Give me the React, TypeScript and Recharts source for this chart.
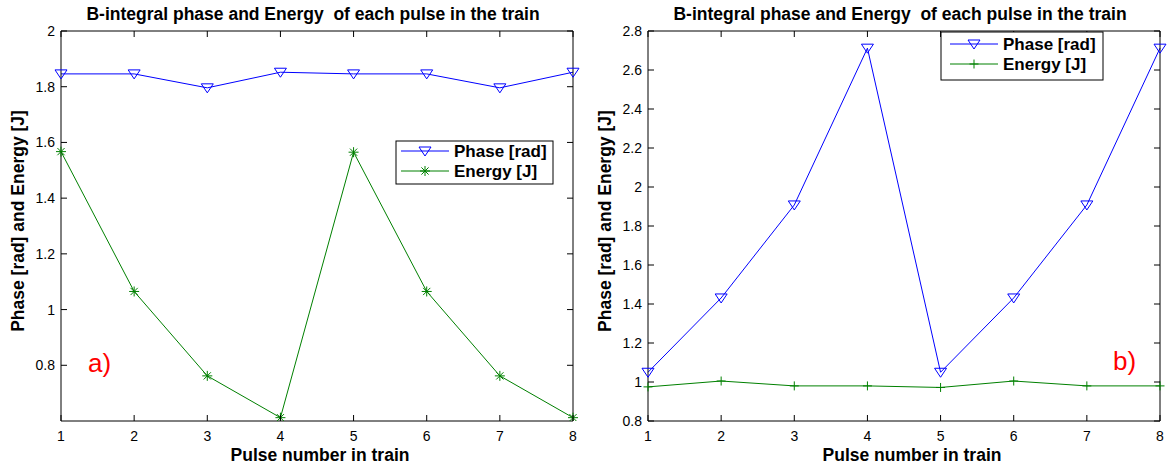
import { Line, LineChart, XAxis, YAxis } from 'recharts';

const pulses = [1, 2, 3, 4, 5, 6, 7, 8];
const phaseA = [1.846, 1.846, 1.796, 1.852, 1.846, 1.846, 1.796, 1.852];
const energyA = [1.567, 1.065, 0.762, 0.612, 1.565, 1.065, 0.762, 0.612];
const phaseB = [1.05, 1.431, 1.908, 2.712, 1.05, 1.431, 1.908, 2.712];
const energyB = [0.975, 1.005, 0.98, 0.98, 0.972, 1.005, 0.98, 0.98];
const yTicksA = [0.8, 1, 1.2, 1.4, 1.6, 1.8, 2];
const yTicksB = [0.8, 1, 1.2, 1.4, 1.6, 1.8, 2, 2.2, 2.4, 2.6, 2.8];
const titleText = 'B-integral phase and Energy  of each pulse in the train';
const xLabel = 'Pulse number in train';
const yLabel = 'Phase [rad] and Energy [J]';
const seriesNames = ['Phase [rad]', 'Energy [J]'];
const tags = ['a)', 'b)'];

const FONT = '"Liberation Sans", Arial, sans-serif';
const BLUE = '#0000ff';
const GREEN = '#008000';
const TICK = 6;

const fmt = (v: number) => String(+v.toFixed(1));

const dataA = pulses.map((p, i) => ({ pulse: p, phase: phaseA[i], energy: energyA[i] }));
const dataB = pulses.map((p, i) => ({ pulse: p, phase: phaseB[i], energy: energyB[i] }));

type Pt = { cx?: number; cy?: number };

function TriDown({ cx, cy }: Pt) {
  if (cx == null || cy == null) return null;
  return (
    <polygon
      points={`${cx - 6},${cy - 4} ${cx + 6},${cy - 4} ${cx},${cy + 5}`}
      fill="none"
      stroke={BLUE}
      strokeWidth={1}
    />
  );
}

function Star({ cx, cy }: Pt) {
  if (cx == null || cy == null) return null;
  const r = 5;
  const d = 3.6;
  return (
    <g stroke={GREEN} strokeWidth={1}>
      <line x1={cx - r} y1={cy} x2={cx + r} y2={cy} />
      <line x1={cx} y1={cy - r} x2={cx} y2={cy + r} />
      <line x1={cx - d} y1={cy - d} x2={cx + d} y2={cy + d} />
      <line x1={cx - d} y1={cy + d} x2={cx + d} y2={cy - d} />
    </g>
  );
}

function Plus({ cx, cy }: Pt) {
  if (cx == null || cy == null) return null;
  const r = 4.5;
  return (
    <g stroke={GREEN} strokeWidth={1}>
      <line x1={cx - r} y1={cy} x2={cx + r} y2={cy} />
      <line x1={cx} y1={cy - r} x2={cx} y2={cy + r} />
    </g>
  );
}

type TickP = { x?: number; y?: number; payload?: { value: number } };

function BottomTick({ x = 0, y = 0, payload }: TickP) {
  return (
    <g>
      <line x1={x} y1={y} x2={x} y2={y - TICK} stroke="#000" />
      <text x={x} y={y + 20} textAnchor="middle" fontSize={14} fontFamily={FONT} fill="#000">
        {fmt(payload?.value ?? 0)}
      </text>
    </g>
  );
}

function TopTick({ x = 0, y = 0 }: TickP) {
  return <line x1={x} y1={y} x2={x} y2={y + TICK} stroke="#000" />;
}

function LeftTick({ x = 0, y = 0, payload }: TickP) {
  return (
    <g>
      <line x1={x} y1={y} x2={x + TICK} y2={y} stroke="#000" />
      <text x={x - 6} y={y + 5} textAnchor="end" fontSize={14} fontFamily={FONT} fill="#000">
        {fmt(payload?.value ?? 0)}
      </text>
    </g>
  );
}

function RightTick({ x = 0, y = 0 }: TickP) {
  return <line x1={x} y1={y} x2={x - TICK} y2={y} stroke="#000" />;
}

interface PanelProps {
  width: number;
  margin: { top: number; right: number; bottom: number; left: number };
  data: { pulse: number; phase: number; energy: number }[];
  yDomain: [number, number];
  yTicks: number[];
  energyDot: React.ReactElement;
}

// axes are 1px thick so recharts still draws them; margins are reduced by 1 to compensate
function Panel({ width, margin, data, yDomain, yTicks, energyDot }: PanelProps) {
  const axisLine = { stroke: '#000', strokeWidth: 1 };
  return (
    <LineChart width={width} height={466} data={data} margin={margin}>
      <XAxis
        xAxisId="b"
        dataKey="pulse"
        type="number"
        domain={[1, 8]}
        ticks={pulses}
        interval={0}
        height={1}
        tickSize={0}
        tickMargin={0}
        tickLine={false}
        axisLine={axisLine}
        tick={<BottomTick />}
      />
      <XAxis
        xAxisId="t"
        orientation="top"
        dataKey="pulse"
        type="number"
        domain={[1, 8]}
        ticks={pulses}
        interval={0}
        height={1}
        tickSize={0}
        tickMargin={0}
        tickLine={false}
        axisLine={axisLine}
        tick={<TopTick />}
      />
      <YAxis
        yAxisId="l"
        type="number"
        domain={yDomain}
        ticks={yTicks}
        interval={0}
        width={1}
        tickSize={0}
        tickMargin={0}
        tickLine={false}
        axisLine={axisLine}
        allowDataOverflow
        tick={<LeftTick />}
      />
      <YAxis
        yAxisId="r"
        orientation="right"
        type="number"
        domain={yDomain}
        ticks={yTicks}
        interval={0}
        width={1}
        tickSize={0}
        tickMargin={0}
        tickLine={false}
        axisLine={axisLine}
        allowDataOverflow
        tick={<RightTick />}
      />
      <Line
        xAxisId="b"
        yAxisId="l"
        dataKey="phase"
        type="linear"
        stroke={BLUE}
        strokeWidth={1}
        dot={<TriDown />}
        activeDot={false}
        isAnimationActive={false}
      />
      <Line
        xAxisId="b"
        yAxisId="l"
        dataKey="energy"
        type="linear"
        stroke={GREEN}
        strokeWidth={1}
        dot={energyDot}
        activeDot={false}
        isAnimationActive={false}
      />
    </LineChart>
  );
}

function LegendBox({ x, y, w, h, lineX, row1, row2, textX, EnergyMark }: {
  x: number; y: number; w: number; h: number; lineX: number; row1: number; row2: number; textX: number;
  EnergyMark: (p: Pt) => React.ReactElement | null;
}) {
  const mid = lineX + 24;
  return (
    <g>
      <rect x={x} y={y} width={w} height={h} fill="#fff" stroke="#000" strokeWidth={1} />
      <line x1={lineX} y1={row1} x2={lineX + 48} y2={row1} stroke={BLUE} />
      <TriDown cx={mid} cy={row1} />
      <line x1={lineX} y1={row2} x2={lineX + 48} y2={row2} stroke={GREEN} />
      <EnergyMark cx={mid} cy={row2} />
      <text x={textX} y={row1 + 6} fontSize={17} fontWeight="bold" fontFamily={FONT} fill="#000">
        {seriesNames[0]}
      </text>
      <text x={textX} y={row2 + 6} fontSize={17} fontWeight="bold" fontFamily={FONT} fill="#000">
        {seriesNames[1]}
      </text>
    </g>
  );
}

export default function App() {
  const bold = { fontSize: 17.5, fontWeight: 'bold' as const, fontFamily: FONT, fill: '#000' };
  return (
    <div style={{ position: 'absolute', left: 0, top: 0, width: 1171, height: 466, background: '#fff' }}>
      <div style={{ position: 'absolute', left: 0, top: 0 }}>
        <Panel
          width={590}
          margin={{ top: 30, right: 16, bottom: 44, left: 60 }}
          data={dataA}
          yDomain={[0.6, 2]}
          yTicks={yTicksA}
          energyDot={<Star />}
        />
      </div>
      <div style={{ position: 'absolute', left: 590, top: 0 }}>
        <Panel
          width={581}
          margin={{ top: 30, right: 10, bottom: 44, left: 57 }}
          data={dataB}
          yDomain={[0.8, 2.8]}
          yTicks={yTicksB}
          energyDot={<Plus />}
        />
      </div>
      <svg
        width={1171}
        height={466}
        style={{ position: 'absolute', left: 0, top: 0, pointerEvents: 'none' }}
      >
        <text x={313} y={20} textAnchor="middle" xmlSpace="preserve" {...bold}>{titleText}</text>
        <text x={900} y={20} textAnchor="middle" xmlSpace="preserve" {...bold}>{titleText}</text>
        <text x={320} y={461} textAnchor="middle" {...bold}>{xLabel}</text>
        <text x={912} y={461} textAnchor="middle" {...bold}>{xLabel}</text>
        <text x={18} y={221} textAnchor="middle" dominantBaseline="central" transform="rotate(-90 18 221)" {...bold}>
          {yLabel}
        </text>
        <text x={605} y={221} textAnchor="middle" dominantBaseline="central" transform="rotate(-90 605 221)" {...bold}>
          {yLabel}
        </text>
        <LegendBox x={396} y={141} w={157} h={43} lineX={401} row1={151} row2={171} textX={454} EnergyMark={Star} />
        <LegendBox x={941} y={32} w={162} h={48} lineX={950} row1={44} row2={64} textX={1003} EnergyMark={Plus} />
        <text x={88} y={372} fontSize={26} fontFamily={FONT} fill="#ff0000">{tags[0]}</text>
        <text x={1113} y={370} fontSize={26} fontFamily={FONT} fill="#ff0000">{tags[1]}</text>
      </svg>
    </div>
  );
}
